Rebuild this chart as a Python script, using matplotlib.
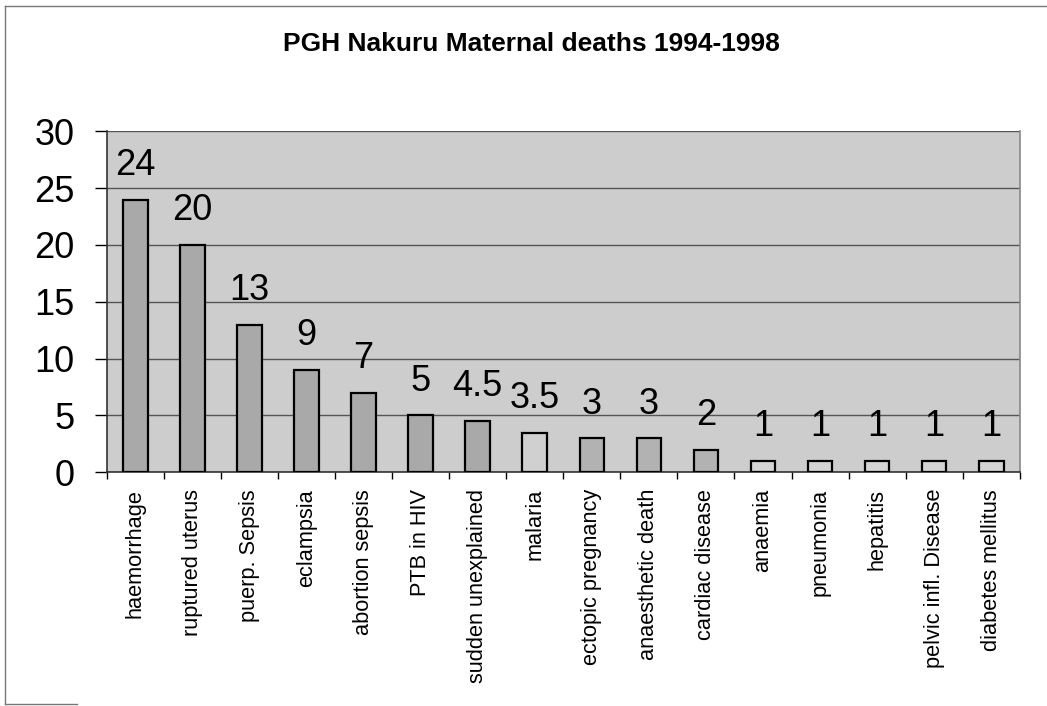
import matplotlib
matplotlib.use("Agg")
import matplotlib.pyplot as plt
from matplotlib.lines import Line2D

plt.rcParams['font.family'] = ['Liberation Sans', 'DejaVu Sans']

# data
causes = ["haemorrhage", "ruptured uterus", "puerp. Sepsis", "eclampsia",
          "abortion sepsis", "PTB in HIV", "sudden unexplained", "malaria",
          "ectopic pregnancy", "anaesthetic death", "cardiac disease",
          "anaemia", "pneumonia", "hepatitis", "pelvic infl. Disease",
          "diabetes mellitus"]
deaths = [24, 20, 13, 9, 7, 5, 4.5, 3.5, 3, 3, 2, 1, 1, 1, 1, 1]
value_labels = ["24", "20", "13", "9", "7", "5", "4.5", "3.5", "3", "3", "2",
                "1", "1", "1", "1", "1"]
yticks = [0, 5, 10, 15, 20, 25, 30]

fig = plt.figure(figsize=(10.47, 7.06), dpi=100)
ax = fig.add_axes([0.102, 0.331, 0.872, 0.483])

n = len(causes)
x = list(range(n))
ax.set_facecolor("#cdcdcd")
bar_colors = ["#a9a9a9"] * 7 + ["#d0d0d0"] + ["#b2b2b2"] * 3 + ["#d4d4d4"] * 5
ax.bar(x, deaths, width=0.43, color=bar_colors, edgecolor="black",
       linewidth=1.6, zorder=3)

for xi, v, lab in zip(x, deaths, value_labels):
    ax.annotate(lab, (xi, v), xytext=(0, 12), textcoords="offset points",
                ha="center", va="bottom", fontsize=26, zorder=4)

ax.set_xlim(-0.5, n - 0.5)
ax.set_ylim(0, 30)
ax.set_yticks(yticks)
ax.tick_params(axis="y", labelsize=26, length=9, width=1, pad=14, direction="out")
ax.yaxis.grid(True, color="#555555", linewidth=1.0, zorder=1)

ax.set_xticks(x)
ax.set_xticklabels(causes, rotation=90, fontsize=15.7, va="top", ha="center")
ax.tick_params(axis="x", length=0, pad=12)
# category separators below the axis
ax.set_xticks([i - 0.5 for i in range(n + 1)], minor=True)
ax.tick_params(axis="x", which="minor", length=5, width=1, direction="out")

for side in ["left", "bottom", "right", "top"]:
    ax.spines[side].set_color("#333333")
    ax.spines[side].set_linewidth(1.2)
ax.spines["right"].set_color("#888888")
ax.spines["top"].set_visible(False)

fig.text(0.508, 0.938, "PGH Nakuru Maternal deaths 1994-1998", ha="center",
         va="center", fontsize=19, fontweight="bold")

# outer chart frame
fig.add_artist(Line2D([0.005, 0.005], [0.003, 0.992], color="#777777", linewidth=1,
                      transform=fig.transFigure))
fig.add_artist(Line2D([0.005, 1.0], [0.992, 0.992], color="#777777", linewidth=1,
                      transform=fig.transFigure))
fig.add_artist(Line2D([0.005, 0.074], [0.003, 0.003], color="#777777", linewidth=1,
                      transform=fig.transFigure))

fig.savefig("out.png", dpi=100)
